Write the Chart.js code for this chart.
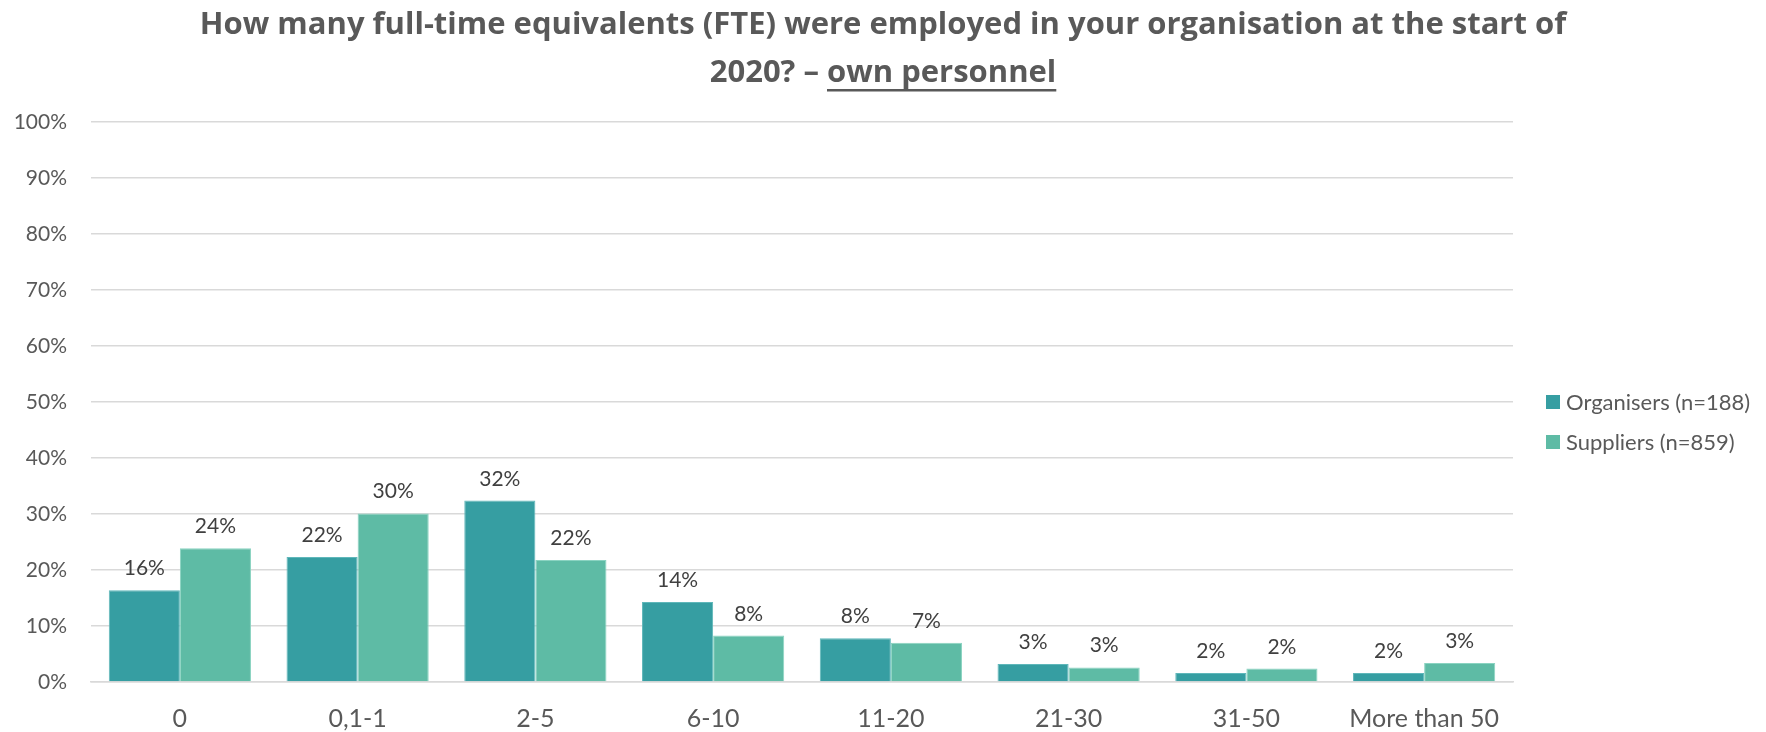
<!DOCTYPE html>
<html>
<head>
<meta charset="utf-8">
<script src="https://cdn.jsdelivr.net/npm/chart.js@4"></script>
<style>
  html, body { margin: 0; padding: 0; background: #fff; }
  canvas { display: block; }
</style>
</head>
<body>
<canvas id="grafik" width="1766" height="732"></canvas>
<script>
const categories = ['0', '0,1-1', '2-5', '6-10', '11-20', '21-30', '31-50', 'More than 50'];
const organisers = [16.4, 22.3, 32.4, 14.3, 7.8, 3.2, 1.6, 1.6];
const suppliers = [23.9, 30.1, 21.8, 8.3, 7.0, 2.6, 2.4, 3.4];
const seriesNames = ['Organisers (n=188)', 'Suppliers (n=859)'];
const seriesColors = ['#369EA2', '#5EBBA5'];
const titleLines = ['How many full-time equivalents (FTE) were employed in your organisation at the start of', '2020? \u2013 own personnel'];
const underlined = 'own personnel';

const FONT = 'Lato';
const TITLE_FONT = 'Open Sans';
const TITLE_SIZE = 31;
const TITLE_LH = 48;

// value labels above each bar
const barLabels = {
    id: 'barLabels',
    afterDatasetsDraw(chart) {
        const ctx = chart.ctx;
        ctx.save();
        ctx.font = '21px ' + FONT;
        ctx.fillStyle = '#404040';
        ctx.textAlign = 'center';
        ctx.textBaseline = 'alphabetic';
        chart.data.datasets.forEach((ds, i) => {
            chart.getDatasetMeta(i).data.forEach((bar, j) => {
                ctx.fillText(Math.round(ds.data[j]) + '%', bar.x, bar.y - 15);
            });
        });
        ctx.restore();
    }
};

// legend to the right of the plot, centred on the plot area like Excel does
const sideLegend = {
    id: 'sideLegend',
    afterDraw(chart) {
        const ctx = chart.ctx;
        const area = chart.chartArea;
        const x = area.right + 33;
        const yMid = (area.top + area.bottom) / 2;
        ctx.save();
        ctx.font = '22px ' + FONT;
        ctx.textBaseline = 'middle';
        ctx.textAlign = 'left';
        chart.data.datasets.forEach((ds, i) => {
            const y = yMid + i * 40;
            ctx.fillStyle = ds.backgroundColor;
            ctx.fillRect(x, y - 7, 14, 14);
            ctx.fillStyle = '#595959';
            ctx.fillText(ds.label, x + 20, y + 1);
        });
        ctx.restore();
    }
};

// underline part of the second title line
const titleUnderline = {
    id: 'titleUnderline',
    afterDraw(chart) {
        const tb = chart.titleBlock;
        if (!tb) return;
        const ctx = chart.ctx;
        ctx.save();
        ctx.font = 'bold ' + TITLE_SIZE + 'px "' + TITLE_FONT + '"';
        const line = titleLines[1];
        const full = ctx.measureText(line).width;
        const start = line.indexOf(underlined);
        const pre = ctx.measureText(line.slice(0, start)).width;
        const w = ctx.measureText(underlined).width;
        const cx = (tb.left + tb.right) / 2;
        const x0 = cx - full / 2 + pre;
        const y = tb.top + chart.options.plugins.title.padding.top + TITLE_LH * 1.5 + 16;
        ctx.fillStyle = '#595959';
        ctx.fillRect(x0, y, w, 2.5);
        ctx.restore();
    }
};

const data = {
    labels: categories,
    datasets: [{
        label: seriesNames[0],
        data: organisers,
        backgroundColor: seriesColors[0],
        borderColor: '#5FB7BA',
        borderWidth: 1
    }, {
        label: seriesNames[1],
        data: suppliers,
        backgroundColor: seriesColors[1],
        borderColor: '#8AD3C1',
        borderWidth: 1
    }]
};

const options = {
    responsive: false,
    animation: false,
    layout: { padding: { left: 0, right: 0, top: 1, bottom: 0 } },
    datasets: {
        bar: { categoryPercentage: 0.8, barPercentage: 1.0 }
    },
    plugins: {
        title: {
            display: true,
            text: titleLines,
            color: '#595959',
            font: { family: TITLE_FONT, size: TITLE_SIZE, weight: 'bold', lineHeight: TITLE_LH / TITLE_SIZE },
            padding: { top: 0, bottom: 25 }
        },
        legend: { display: false },
        tooltip: { enabled: false }
    },
    scales: {
        x: {
            afterFit(scale) { scale.height = 50; },
            grid: { display: false, drawTicks: false },
            border: { display: true, color: '#D9D9D9', width: 1.5 },
            ticks: { color: '#595959', font: { family: FONT, size: 25 }, padding: 22, maxRotation: 0, autoSkip: false }
        },
        y: {
            min: 0,
            max: 100,
            afterFit(scale) { scale.width = 91; },
            grid: { color: '#D9D9D9', lineWidth: 1.5, drawTicks: false },
            border: { display: false },
            ticks: {
                stepSize: 10,
                color: '#595959',
                font: { family: FONT, size: 21 },
                padding: 24,
                callback: v => v + '%'
            }
        },
        // empty right-hand strip that holds the legend
        legendSpace: {
            type: 'linear',
            position: 'right',
            afterFit(scale) { scale.width = 253; },
            grid: { display: false, drawTicks: false },
            border: { display: false },
            ticks: { display: false }
        }
    }
};

new Chart(document.getElementById('grafik'), {
    type: 'bar',
    data: data,
    options: options,
    plugins: [barLabels, sideLegend, titleUnderline]
});
</script>
</body>
</html>
